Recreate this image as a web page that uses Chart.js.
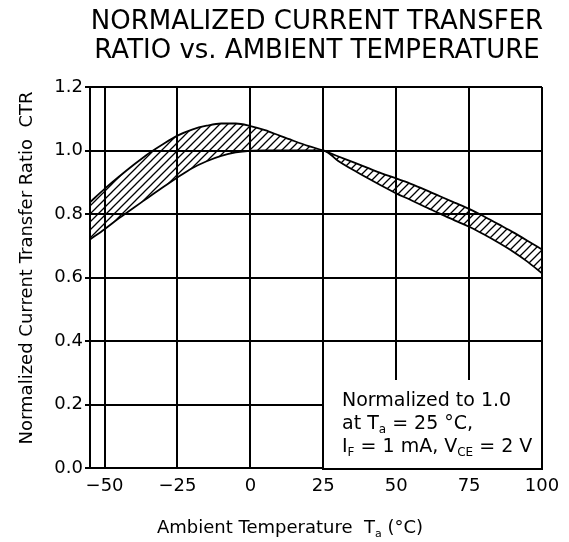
<!DOCTYPE html>
<html>
<head>
<meta charset="utf-8">
<script src="https://cdn.jsdelivr.net/npm/chart.js@4.4.1/dist/chart.umd.min.js"></script>
<style>
  html, body { margin: 0; padding: 0; background: #fff; }
  canvas { display: block; }
</style>
</head>
<body>
<canvas id="ctr" width="569" height="542"></canvas>
<script>
// (Ta in degC, CTR normalized to 1.0 at 25 degC)
const temps    = [-55, -50, -45, -40, -35, -30, -25, -20, -15, -10, -5, 0, 5, 10, 15, 20, 25,
                  30, 35, 40, 45, 50, 55, 60, 65, 70, 75, 80, 85, 90, 95, 100];
const ctrUpper = [0.837, 0.879, 0.918, 0.955, 0.990, 1.020, 1.047, 1.066, 1.078, 1.085, 1.085, 1.077,
                  1.064, 1.047, 1.030, 1.014, 1.000,
                  0.982, 0.964, 0.946, 0.928, 0.912, 0.895, 0.876, 0.856, 0.836, 0.816, 0.793,
                  0.768, 0.743, 0.716, 0.688];
const ctrLower = [0.720, 0.752, 0.787, 0.820, 0.852, 0.884, 0.915, 0.944, 0.966, 0.983, 0.994, 0.999,
                  1.000, 1.000, 1.000, 1.000, 1.000,
                  0.968, 0.940, 0.914, 0.889, 0.865, 0.844, 0.822, 0.801, 0.780, 0.760, 0.736,
                  0.710, 0.682, 0.650, 0.613];
const xTicks = [-50, -25, 0, 25, 50, 75, 100];

const titleLines = ['NORMALIZED CURRENT TRANSFER', 'RATIO vs. AMBIENT TEMPERATURE'];
const yTitle = 'Normalized Current Transfer Ratio  CTR';
const xTitle = [['Ambient Temperature  T', false], ['a', true], [' (°C)', false]];
const noteLines = [
  [['Normalized to 1.0', false]],
  [['at T', false], ['a', true], [' = 25 °C,', false]],
  [['I', false], ['F', true], [' = 1 mA, V', false], ['CE', true], [' = 2 V', false]],
];

const FONT = '"DejaVu Sans", sans-serif';

const canvas = document.getElementById('ctr');
const ctx = canvas.getContext('2d');

// diagonal hatch for the spread band
function makeHatch() {
  const s = 8;
  const pc = document.createElement('canvas');
  pc.width = s; pc.height = s;
  const p = pc.getContext('2d');
  p.strokeStyle = '#000';
  p.lineWidth = 1.3;
  p.beginPath();
  p.moveTo(0, s); p.lineTo(s, 0);
  p.moveTo(-1, 1); p.lineTo(1, -1);
  p.moveTo(s - 1, s + 1); p.lineTo(s + 1, s - 1);
  p.stroke();
  return ctx.createPattern(pc, 'repeat');
}

// draws a run of [text, isSubscript] pieces starting at x
function drawRuns(c, runs, x, y, size) {
  runs.forEach(([t, sub]) => {
    c.font = (sub ? Math.round(size * 0.62) : size) + 'px ' + FONT;
    c.fillText(t, x, sub ? y + size * 0.22 : y);
    x += c.measureText(t).width;
  });
}
function runsWidth(c, runs, size) {
  let w = 0;
  runs.forEach(([t, sub]) => {
    c.font = (sub ? Math.round(size * 0.62) : size) + 'px ' + FONT;
    w += c.measureText(t).width;
  });
  return w;
}

const textPlugin = {
  id: 'texts',
  beforeDatasetsDraw(chart) {
    // blank the grid behind the note box, then put the frame back
    const { ctx: c, chartArea: a, scales: { x, y } } = chart;
    const x0 = Math.round(x.getPixelForValue(25)) + 1;
    const y0 = Math.round(y.getPixelForValue(0.277));
    c.save();
    c.fillStyle = '#fff';
    c.fillRect(x0, y0, a.right - x0, a.bottom - y0);
    c.strokeStyle = '#000';
    c.lineWidth = 2;
    c.beginPath();
    c.moveTo(Math.round(a.right), y0 - 1);
    c.lineTo(Math.round(a.right), Math.round(a.bottom) + 1);
    c.lineTo(x0 - 2, Math.round(a.bottom) + 1);
    c.stroke();
    c.restore();
  },
  afterDraw(chart) {
    const c = chart.ctx;
    c.save();
    c.fillStyle = '#000';
    c.textBaseline = 'alphabetic';

    c.textAlign = 'center';
    c.font = '26px ' + FONT;
    c.fillText(titleLines[0], 317, 29);
    c.fillText(titleLines[1], 317, 58);

    c.save();
    c.translate(32, 268);
    c.rotate(-Math.PI / 2);
    c.font = '18px ' + FONT;
    c.fillText(yTitle, 0, 0);
    c.restore();

    c.textAlign = 'left';
    const xw = runsWidth(c, xTitle, 18);
    drawRuns(c, xTitle, 290 - xw / 2, 533, 18);

    noteLines.forEach((runs, i) => drawRuns(c, runs, 342, 406 + i * 23, 19));
    c.restore();
  }
};

new Chart(ctx, {
  type: 'line',
  data: {
    datasets: [
      {
        label: 'upper',
        data: temps.map((t, i) => ({ x: t, y: ctrUpper[i] })),
        borderColor: '#000',
        borderWidth: 1.8,
        pointRadius: 0,
        cubicInterpolationMode: 'monotone',
        fill: '+1',
        backgroundColor: makeHatch(),
      },
      {
        label: 'lower',
        data: temps.map((t, i) => ({ x: t, y: ctrLower[i] })),
        borderColor: '#000',
        borderWidth: 1.8,
        pointRadius: 0,
        cubicInterpolationMode: 'monotone',
        fill: false,
      },
    ],
  },
  options: {
    responsive: false,
    animation: false,
    layout: { padding: { top: 87, left: 0, right: 27, bottom: 0 } },
    plugins: { legend: { display: false }, tooltip: { enabled: false }, title: { display: false } },
    scales: {
      x: {
        type: 'linear',
        min: -55,
        max: 100,
        afterBuildTicks: (scale) => { scale.ticks = xTicks.map((v) => ({ value: v })); },
        afterFit: (scale) => { scale.height = 74; },
        grid: { color: '#000', lineWidth: 2, drawTicks: false },
        border: { display: true, color: '#000', width: 2 },
        ticks: {
          color: '#000',
          padding: 8,
          font: { family: FONT, size: 18 },
          callback: (v) => String(v).replace('-', '\u2212'),
        },
      },
      y: {
        min: 0,
        max: 1.2,
        afterFit: (scale) => { scale.width = 90; },
        grid: { color: '#000', lineWidth: 2, tickLength: 5 },
        border: { display: true, color: '#000', width: 2 },
        ticks: {
          stepSize: 0.2,
          color: '#000',
          padding: 2,
          font: { family: FONT, size: 18 },
          callback: (v) => v.toFixed(1),
        },
      },
    },
  },
  plugins: [textPlugin],
});
</script>
</body>
</html>
